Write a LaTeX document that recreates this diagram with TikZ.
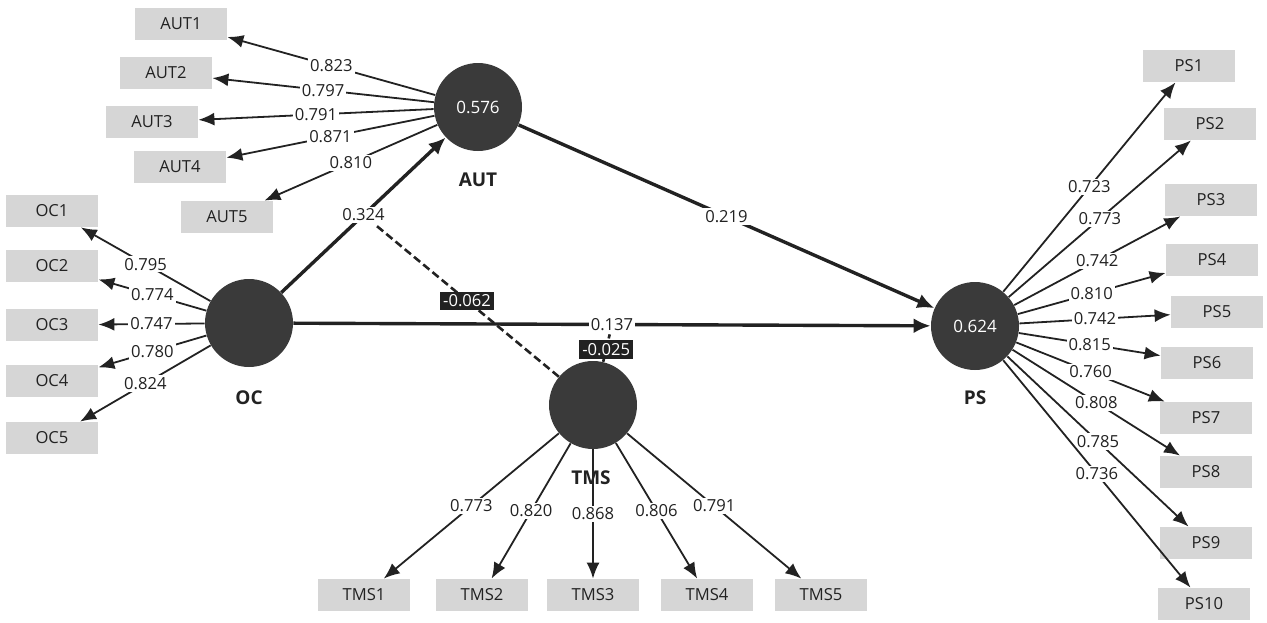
\documentclass[tikz,border=0pt]{standalone}
\usepackage{fontspec}
\setmainfont{Open Sans}
\usepackage{tikz}
\usetikzlibrary{arrows.meta}
\definecolor{boxgray}{HTML}{D6D6D6}
\definecolor{lvgray}{HTML}{3A3A3A}
\definecolor{inkgray}{HTML}{222222}
\tikzset{
    ind/.style={fill=boxgray, minimum width=46pt, minimum height=16pt, inner sep=0pt,
        text=inkgray, font=\fontsize{8.3}{9}\selectfont},
    lv/.style={circle, fill=lvgray, minimum size=44pt, inner sep=0pt,
        text=white, font=\fontsize{8.5}{10}\selectfont},
    lvname/.style={text=inkgray, font=\fontsize{9.5}{10}\selectfont\bfseries},
    ld/.style={draw=inkgray, line width=0.9pt, -{Latex[length=8pt,width=6.5pt]}},
    pth/.style={draw=inkgray, line width=1.7pt, -{Latex[length=8.5pt,width=7.5pt]}},
    mdl/.style={draw=inkgray, line width=1.3pt, dash pattern=on 4pt off 2pt},
    val/.style={fill=white, inner sep=1pt, text=inkgray, font=\fontsize{8.3}{9}\selectfont},
    mval/.style={fill=inkgray, inner sep=1.5pt, text=white, font=\fontsize{8.3}{9}\selectfont}
}

\begin{document}
\begin{tikzpicture}[x=0.5pt, y=-0.5pt]
                        \useasboundingbox (0,0) rectangle (1267,622);

                        \node[lv] (AUT) at (478,107) {0.576};
                        \node[lv] (OC) at (249,323) {};
                        \node[lv] (TMS) at (593,405) {};
                        \node[lv] (PS) at (975,326) {0.624};

                        \node[lvname] (AUTn) at (478,180) {AUT};
                        \node[lvname] (OCn) at (249,398) {OC};
                        \node[lvname] (TMSn) at (591,478) {TMS};
                        \node[lvname] (PSn) at (975,398) {PS};

                        \node[ind] (AUT1) at (181,24) {AUT1};
                        \node[ind] (AUT2) at (166,73) {AUT2};
                        \node[ind] (AUT3) at (152,122) {AUT3};
                        \node[ind] (AUT4) at (180,167) {AUT4};
                        \node[ind] (AUT5) at (227,217) {AUT5};

                        \node[ind] (OC1) at (52,211) {OC1};
                        \node[ind] (OC2) at (52,266) {OC2};
                        \node[ind] (OC3) at (52,325) {OC3};
                        \node[ind] (OC4) at (52,381) {OC4};
                        \node[ind] (OC5) at (52,438) {OC5};

                        \node[ind] (TMS1) at (364,595) {TMS1};
                        \node[ind] (TMS2) at (482,595) {TMS2};
                        \node[ind] (TMS3) at (593,595) {TMS3};
                        \node[ind] (TMS4) at (707,595) {TMS4};
                        \node[ind] (TMS5) at (821,595) {TMS5};

                        \node[ind] (PS1) at (1189,66) {PS1};
                        \node[ind] (PS2) at (1210,124) {PS2};
                        \node[ind] (PS3) at (1211,200) {PS3};
                        \node[ind] (PS4) at (1212,260) {PS4};
                        \node[ind] (PS5) at (1217,312) {PS5};
                        \node[ind] (PS6) at (1207,363) {PS6};
                        \node[ind] (PS7) at (1206,418) {PS7};
                        \node[ind] (PS8) at (1206,472) {PS8};
                        \node[ind] (PS9) at (1206,543) {PS9};
                        \node[ind] (PS10) at (1204,604) {PS10};

                        \draw[ld] (AUT) -- (AUT1) node[val, pos=.5] {0.823};
                        \draw[ld] (AUT) -- (AUT2) node[val, pos=.5] {0.797};
                        \draw[ld] (AUT) -- (AUT3) node[val, pos=.5] {0.791};
                        \draw[ld] (AUT) -- (AUT4) node[val, pos=.5] {0.871};
                        \draw[ld] (AUT) -- (AUT5) node[val, pos=.5] {0.810};

                        \draw[ld] (OC) -- (OC1) node[val, pos=.5] {0.795};
                        \draw[ld] (OC) -- (OC2) node[val, pos=.5] {0.774};
                        \draw[ld] (OC) -- (OC3) node[val, pos=.5] {0.747};
                        \draw[ld] (OC) -- (OC4) node[val, pos=.5] {0.780};
                        \draw[ld] (OC) -- (OC5) node[val, pos=.5] {0.824};

                        \draw[ld] (TMS) -- (TMS1) node[val, pos=.5] {0.773};
                        \draw[ld] (TMS) -- (TMS2) node[val, pos=.5] {0.820};
                        \draw[ld] (TMS) -- (TMS3) node[val, pos=.5] {0.868};
                        \draw[ld] (TMS) -- (TMS4) node[val, pos=.5] {0.806};
                        \draw[ld] (TMS) -- (TMS5) node[val, pos=.5] {0.791};

                        \draw[ld] (PS) -- (PS1) node[val, pos=.5] {0.723};
                        \draw[ld] (PS) -- (PS2) node[val, pos=.5] {0.773};
                        \draw[ld] (PS) -- (PS3) node[val, pos=.5] {0.742};
                        \draw[ld] (PS) -- (PS4) node[val, pos=.5] {0.810};
                        \draw[ld] (PS) -- (PS5) node[val, pos=.5] {0.742};
                        \draw[ld] (PS) -- (PS6) node[val, pos=.5] {0.815};
                        \draw[ld] (PS) -- (PS7) node[val, pos=.5] {0.760};
                        \draw[ld] (PS) -- (PS8) node[val, pos=.5] {0.808};
                        \draw[ld] (PS) -- (PS9) node[val, pos=.5] {0.785};
                        \draw[ld] (PS) -- (PS10) node[val, pos=.5] {0.736};

                        \draw[pth] (OC) -- (AUT) node[val, pos=.5] (b1) {0.324};
                        \draw[pth] (AUT) -- (PS) node[val, pos=.5] (b2) {0.219};
                        \draw[pth] (OC) -- (PS) node[val, pos=.5] (b3) {0.137};

                        \draw[mdl] (TMS) -- (b1) node[mval, pos=.5] {-0.062};
                        \draw[mdl] (TMS) -- (b3) node[mval, pos=.45] {-0.025};
                    \end{tikzpicture}
\end{document}
